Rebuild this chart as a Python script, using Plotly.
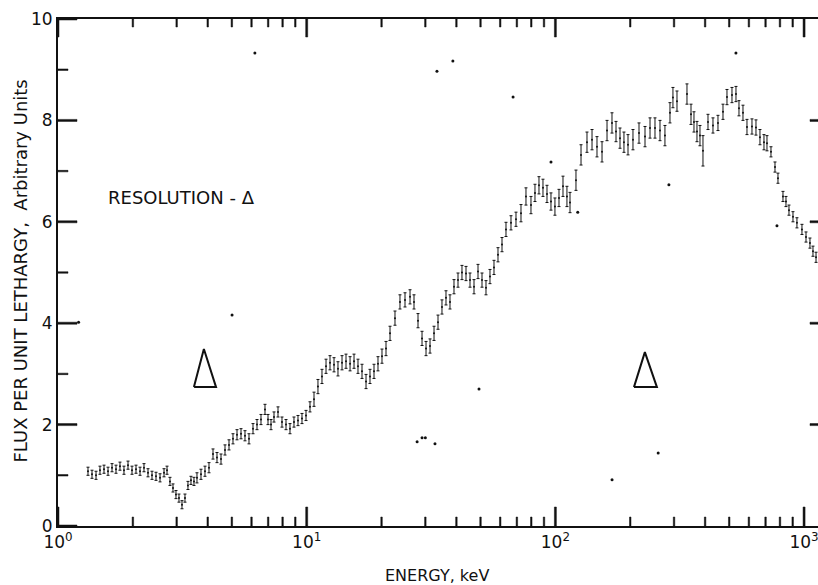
import math
import plotly.graph_objects as go

# ---- data ----
energy_kev = [
    1.320, 1.370, 1.422, 1.475, 1.531, 1.589, 1.649, 1.711, 1.775, 1.842,
    1.912, 1.984, 2.059, 2.137, 2.217, 2.301, 2.388, 2.478, 2.572, 2.669,
    2.744, 2.820, 2.900, 2.981, 3.065, 3.152, 3.240, 3.331, 3.425, 3.522,
    3.621, 3.758, 3.900, 4.047, 4.200, 4.358, 4.523, 4.694, 4.871, 5.054,
    5.246, 5.443, 5.648, 5.861, 6.083, 6.313, 6.550, 6.797, 6.989, 7.186,
    7.389, 7.667, 7.956, 8.257, 8.567, 8.890, 9.226, 9.574, 9.936, 10.31,
    10.70, 11.10, 11.52, 11.96, 12.41, 12.88, 13.36, 13.87, 14.39, 14.94,
    15.50, 16.08, 16.69, 17.32, 17.97, 18.65, 19.35, 20.08, 20.84, 21.63,
    22.65, 23.72, 24.85, 26.03, 27.01, 28.03, 29.09, 30.19, 31.33, 32.51,
    33.73, 34.99, 36.32, 37.69, 39.11, 40.59, 42.11, 43.71, 45.36, 47.07,
    48.85, 50.69, 52.60, 54.58, 56.64, 58.78, 61.00, 63.30, 66.30, 69.44,
    72.73, 76.17, 79.78, 82.79, 85.91, 89.15, 92.52, 96.01, 99.6, 103.4,
    107.3, 111.3, 114.5, 121.0, 126.8, 134.0, 140.4, 147.0, 154.0, 161.3,
    168.9, 175.3, 181.9, 188.7, 195.9, 205.1, 216.9, 229.3, 240.2, 251.5,
    263.4, 275.8, 288.9, 297.0, 308.3, 338.2, 351.0, 360.8, 371.0, 381.4,
    392.2, 410.8, 430.2, 450.6, 472.0, 489.8, 513.0, 532.3, 547.3, 568.0,
    589.4, 617.3, 640.6, 664.7, 689.9, 709.3, 736.1, 763.9, 785.3, 822.5,
    845.7, 869.6, 902.4, 936.2, 980.6, 1018, 1056, 1086, 1117,
]
flux = [
    1.08, 1.02, 1.00, 1.10, 1.12, 1.08, 1.15, 1.12, 1.18, 1.10,
    1.20, 1.10, 1.12, 1.08, 1.15, 1.05, 1.00, 0.98, 0.95, 1.05,
    1.10, 0.88, 0.75, 0.62, 0.55, 0.42, 0.55, 0.80, 0.90, 0.88,
    0.95, 1.02, 1.08, 1.15, 1.42, 1.35, 1.32, 1.50, 1.60, 1.72,
    1.80, 1.82, 1.78, 1.72, 1.92, 2.00, 2.10, 2.30, 2.10, 2.00,
    2.15, 2.25, 2.05, 2.00, 1.92, 2.05, 2.08, 2.12, 2.18, 2.35,
    2.50, 2.75, 2.95, 3.15, 3.22, 3.18, 3.10, 3.22, 3.25, 3.20,
    3.25, 3.15, 3.05, 2.85, 2.95, 3.05, 3.20, 3.35, 3.50, 3.80,
    4.10, 4.42, 4.46, 4.52, 4.42, 4.05, 3.70, 3.50, 3.55, 3.80,
    4.02, 4.32, 4.50, 4.42, 4.72, 4.85, 5.00, 4.98, 4.85, 4.72,
    5.02, 4.85, 4.70, 4.92, 5.10, 5.35, 5.55, 5.85, 5.98, 6.05,
    6.17, 6.50, 6.33, 6.57, 6.72, 6.67, 6.55, 6.40, 6.30, 6.47,
    6.70, 6.50, 6.38, 6.82, 7.32, 7.57, 7.62, 7.48, 7.38, 7.80,
    7.95, 7.78, 7.65, 7.57, 7.52, 7.62, 7.75, 7.68, 7.85, 7.85,
    7.80, 7.70, 8.15, 8.45, 8.38, 8.52, 8.12, 7.97, 7.78, 7.70,
    7.40, 7.97, 7.90, 7.95, 8.17, 8.46, 8.50, 8.52, 8.24, 8.15,
    7.87, 7.88, 7.86, 7.67, 7.57, 7.55, 7.38, 7.08, 6.86, 6.50,
    6.40, 6.23, 6.10, 5.98, 5.85, 5.70, 5.58, 5.42, 5.30,
]
flux_err = (
    [0.08] * 30
    + [0.10] * 30
    + [0.14] * 50
    + [0.17] * 10
    + [0.20] * 30
    + [0.30] + [0.15] * 9
    + [0.15] * 6 + [0.10] * 4
    + [0.10] * 9
)

stray_energy = [1.21, 5.01, 6.19, 33.4, 38.7, 67.6, 27.8, 29.1, 30.0, 32.8,
                49.3, 96.0, 123, 169, 259, 286, 532, 778]
stray_flux = [4.02, 4.16, 9.33, 8.97, 9.17, 8.46, 1.66, 1.74, 1.74, 1.62,
              2.70, 7.18, 6.19, 0.91, 1.44, 6.73, 9.33, 5.92]

# resolution triangles (vertices)
tri1_energy = [3.52, 3.86, 4.32, 3.52]
tri2_energy = [207, 229, 256, 207]
tri1_flux = [2.74, 3.49, 2.74, 2.74]
tri2_flux = [2.74, 3.43, 2.74, 2.74]

x_major = [1, 10, 100, 1000]
x_major_text = ["10<sup>0</sup>", "10<sup>1</sup>", "10<sup>2</sup>", "10<sup>3</sup>"]
x_minor = [2, 3, 4, 5, 6, 7, 8, 9, 20, 30, 40, 50, 60, 70, 80, 90,
           200, 300, 400, 500, 600, 700, 800, 900]
y_major = [0, 2, 4, 6, 8, 10]
y_minor = [1, 3, 5, 7, 9]
y_right = [2, 4, 6, 8]

FONT = "DejaVu Sans"
INK = "#111111"
XR = [0, 3.056]          # log10 range of the energy axis
YR = [0, 10]
W, H = 818, 585
M = dict(l=58, r=0, t=19, b=59)
PX_PER_DECADE = (W - M["l"] - M["r"]) / (XR[1] - XR[0])
PX_PER_UNIT = (H - M["t"] - M["b"]) / (YR[1] - YR[0])

fig = go.Figure()
fig.add_trace(go.Scatter(
    x=energy_kev, y=flux, mode="markers",
    marker=dict(size=2, color=INK),
    error_y=dict(type="data", array=flux_err, visible=True,
                 color=INK, thickness=1, width=1.5),
    showlegend=False, hoverinfo="skip",
))
fig.add_trace(go.Scatter(
    x=stray_energy, y=stray_flux, mode="markers",
    marker=dict(size=3, color=INK), showlegend=False, hoverinfo="skip",
))
for tx, ty in ((tri1_energy, tri1_flux), (tri2_energy, tri2_flux)):
    fig.add_trace(go.Scatter(
        x=tx, y=ty, mode="lines", line=dict(color=INK, width=2),
        showlegend=False, hoverinfo="skip",
    ))


# inward tick marks drawn as thin filled bars, placed via the axis scales
def add_xticks(vals, length_px, width_px, top):
    d = length_px / PX_PER_UNIT
    hw = 0.5 * width_px / PX_PER_DECADE
    y0 = YR[1] if top else YR[0]
    y1 = y0 - d if top else y0 + d
    xs, ys = [], []
    for v in vals:
        a, b = 10 ** (math.log10(v) - hw), 10 ** (math.log10(v) + hw)
        xs += [a, b, b, a, a, None]
        ys += [y0, y0, y1, y1, y0, None]
    fig.add_trace(go.Scatter(x=xs, y=ys, mode="lines", fill="toself",
                             fillcolor=INK, line=dict(color=INK, width=0.5),
                             showlegend=False, hoverinfo="skip"))


def add_yticks(vals, length_px, width_px, right):
    d = length_px / PX_PER_DECADE
    hw = 0.5 * width_px / PX_PER_UNIT
    lx0 = XR[1] if right else XR[0]
    lx1 = XR[1] - d if right else XR[0] + d
    a, b = 10 ** lx0, 10 ** lx1
    xs, ys = [], []
    for v in vals:
        xs += [a, b, b, a, a, None]
        ys += [v - hw, v - hw, v + hw, v + hw, v - hw, None]
    fig.add_trace(go.Scatter(x=xs, y=ys, mode="lines", fill="toself",
                             fillcolor=INK, line=dict(color=INK, width=0.5),
                             showlegend=False, hoverinfo="skip"))


add_xticks(x_major, 19, 2, False)
add_xticks(x_major, 18, 2, True)
add_xticks(x_minor, 9, 1.5, False)
add_xticks(x_minor, 8, 1.5, True)
add_yticks(y_major, 19, 2, False)
add_yticks(y_minor, 10, 1.5, False)
add_yticks(y_right, 8, 2, True)

fig.update_layout(
    width=W, height=H,
    margin=M,
    paper_bgcolor="white", plot_bgcolor="white",
    font=dict(family=FONT, color=INK, size=16),
    xaxis=dict(
        type="log", range=XR,
        tickmode="array", tickvals=x_major, ticktext=x_major_text,
        ticks="", showline=True, linewidth=2, linecolor=INK, mirror=True,
        showgrid=False, zeroline=False, ticklabeloverflow="allow",
        tickfont=dict(size=17, family=FONT),
    ),
    yaxis=dict(
        range=YR, tickmode="array", tickvals=y_major,
        ticks="", showline=True, linewidth=2, linecolor=INK,
        showgrid=False, zeroline=False,
        tickfont=dict(size=17, family=FONT),
    ),
    annotations=[
        dict(text="RESOLUTION - Δ", xref="x", yref="y", x=0.495, y=6.47,
             showarrow=False, xanchor="center", yanchor="middle",
             font=dict(size=18, family=FONT)),
        dict(text="ENERGY, keV", xref="paper", yref="paper",
             x=0.499, y=-0.098, showarrow=False, xanchor="center",
             yanchor="middle", font=dict(size=16, family=FONT)),
        dict(text="FLUX PER UNIT LETHARGY,  Arbitrary Units", xref="paper",
             yref="paper", x=-0.05, y=0.502, textangle=-90,
             showarrow=False, xanchor="center", yanchor="middle",
             font=dict(size=18, family=FONT)),
    ],
)

fig.write_html("out.html")
